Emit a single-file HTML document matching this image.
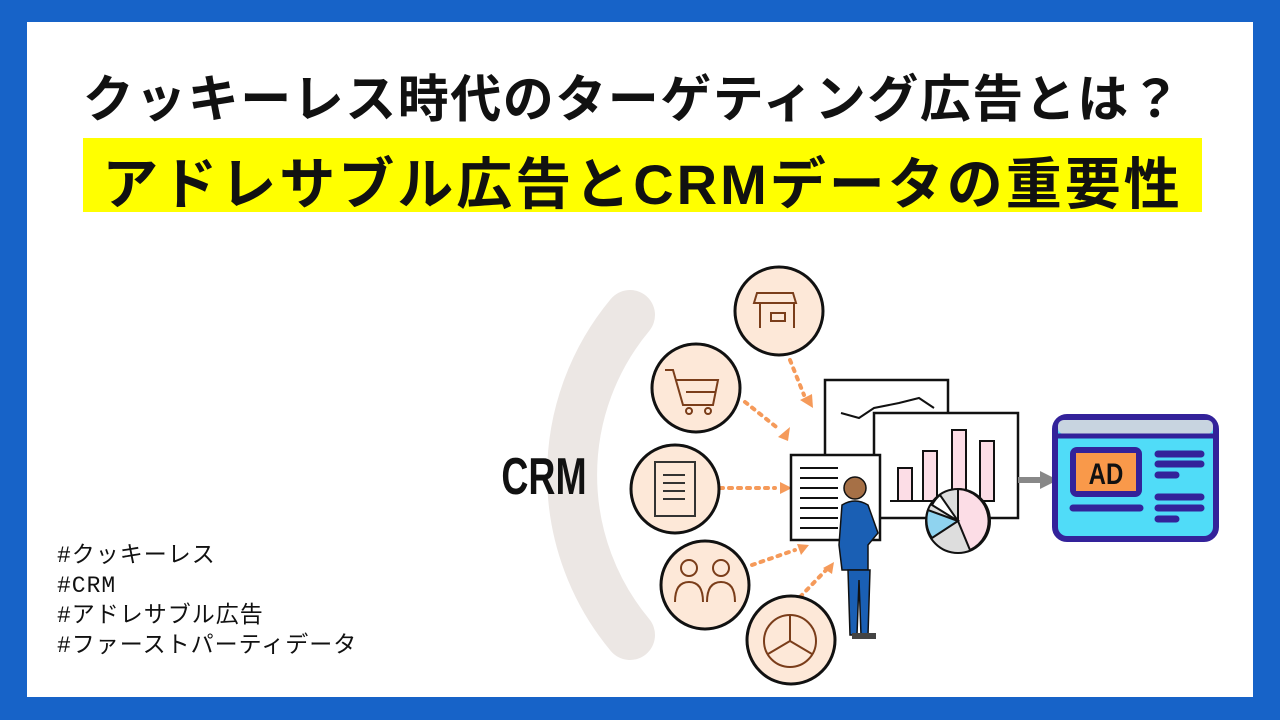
<!DOCTYPE html>
<html><head><meta charset="utf-8"><style>
body{margin:0;width:1280px;height:720px;background:#1763c8;position:relative;overflow:hidden;font-family:"Liberation Sans","Noto Sans CJK JP",sans-serif}
.w{position:absolute;left:27px;top:22px;width:1226px;height:675px;background:#fff}
.t1{position:absolute;left:0;width:1265px;top:58px;text-align:center;font-size:51px;font-weight:bold;color:#111;letter-spacing:1.5px}
.bar{position:absolute;left:83px;top:138px;width:1119px;height:74px;background:#ffff00}
.t2{position:absolute;left:83px;width:1119px;top:140px;text-align:center;font-size:56px;font-weight:bold;color:#111;letter-spacing:3px;white-space:nowrap}
.tags{position:absolute;left:57px;top:541px;font-size:23px;line-height:30px;letter-spacing:1px;color:#111;font-family:"Liberation Mono","Noto Sans CJK JP",monospace}
</style></head><body>
<div class="w"></div>
<div class="t1">クッキーレス時代のターゲティング広告とは？</div>
<div class="bar"></div>
<div class="t2">アドレサブル広告とCRMデータの重要性</div>
<svg width="1280" height="720" style="position:absolute;left:0;top:0">
<path d="M630 315 A 250 250 0 0 0 630 635" fill="none" stroke="#ece7e4" stroke-width="50" stroke-linecap="round"/>
<text x="0" y="0" text-anchor="middle" font-size="52" font-weight="bold" font-family="Liberation Sans,sans-serif" fill="#111" transform="translate(544 494) scale(0.72 1)">CRM</text>
<g stroke="#f59a5a" stroke-width="4" stroke-dasharray="3 6" fill="none" stroke-linecap="round">
<path d="M790 360 L804 395"/><path d="M745 402 L780 430"/><path d="M720 488 L775 488"/><path d="M752 565 L795 550"/><path d="M800 597 L828 568"/>
</g>
<g fill="#f59a5a"><path d="M800 400 l12 -6 l1 14z"/><path d="M778 437 l12 -10 l-2 14z"/><path d="M780 482 l12 6 l-12 6z"/><path d="M797 544 l12 1 l-8 10z"/><path d="M834 562 l-2 12 l-9 -6z"/></g>
<g fill="#fde8d8" stroke="#111" stroke-width="3">
<circle cx="779" cy="311" r="44"/><circle cx="696" cy="388" r="44"/><circle cx="675" cy="489" r="44"/><circle cx="705" cy="585" r="44"/><circle cx="791" cy="640" r="44"/>
</g>
<g stroke="#7a3d1a" stroke-width="2" fill="none">
<path d="M757 293 h36 l3 10 h-42z"/><path d="M760 303 v25 M794 303 v25"/><rect x="771" y="313" width="14" height="8"/>
<path d="M665 370 h8 l10 35 h30 l5 -25 h-43 M686 392 h30"/><circle cx="689" cy="411" r="3"/><circle cx="708" cy="411" r="3"/>
<rect x="655" y="462" width="40" height="54" stroke="#333"/><path d="M663 475 h22 M663 483 h22 M663 491 h22 M663 499 h22" stroke="#333"/>
<circle cx="689" cy="568" r="8"/><circle cx="721" cy="568" r="8"/><path d="M675 602 q0 -20 14 -20 q14 0 14 20 M707 602 q0 -20 14 -20 q14 0 14 20"/>
<circle cx="790" cy="641" r="26"/><path d="M790 641 v-26 M790 641 l-22 13 M790 641 l22 13"/>
</g>
<g fill="#fff" stroke="#111" stroke-width="2.5">
<rect x="825" y="380" width="123" height="90"/><path d="M841 413 l18 5 l15 -10 l25 -5 l20 -5 l15 10" fill="none" stroke-width="2"/>
<rect x="874" y="413" width="144" height="105"/>
<rect x="791" y="455" width="89" height="85"/>
</g>
<g stroke="#111" stroke-width="2"><path d="M800 468h38 M800 478h38 M800 488h38 M800 498h38 M800 508h38 M800 518h38 M800 528h38"/></g>
<g fill="#fcdde6" stroke="#111" stroke-width="2"><rect x="898" y="468" width="14" height="33"/><rect x="923" y="451" width="14" height="50"/><rect x="952" y="430" width="14" height="71"/><rect x="980" y="441" width="14" height="60"/></g>
<path d="M890 501 h100" stroke="#111" stroke-width="2"/>
<circle cx="958" cy="521" r="32" fill="#ddd" stroke="#111" stroke-width="2"/>
<path d="M958 521 V489 A32 32 0 0 1 970 550z" fill="#fcdde6" stroke="#111" stroke-width="2"/>
<path d="M958 521 L928 510 A32 32 0 0 0 932 538z" fill="#8fd3ef" stroke="#111" stroke-width="2"/>
<path d="M958 521 L932 505 A32 32 0 0 1 940 495z" fill="#fff" stroke="#111" stroke-width="2"/>
<circle cx="855" cy="488" r="11" fill="#a67046" stroke="#111" stroke-width="1.5"/>
<path d="M842 505 q13 -8 26 0 l10 28 l-10 12 l0 25 h-26 l-3 -25 z" fill="#1a5fb4" stroke="#111" stroke-width="1.5"/>
<path d="M848 570 h22 l-2 65 h-7 l-2 -55 l-2 55 h-7z" fill="#1a5fb4" stroke="#111" stroke-width="1.5"/>
<rect x="852" y="633" width="24" height="6" fill="#444"/>
<path d="M1018 480 h24" stroke="#888" stroke-width="6"/><path d="M1040 471 l18 9 l-18 9z" fill="#888"/>
<rect x="1055" y="417" width="161" height="122" rx="12" fill="#50dcf8" stroke="#33229a" stroke-width="6"/>
<rect x="1058" y="420" width="155" height="14" rx="6" fill="#c8d4e0"/>
<path d="M1058 436 h155" stroke="#33229a" stroke-width="5"/>
<rect x="1070" y="447" width="72" height="50" rx="7" fill="#33229a"/>
<rect x="1076" y="453" width="60" height="38" fill="#f9994a"/>
<text x="0" y="0" text-anchor="middle" font-size="30" font-weight="bold" fill="#111" font-family="Liberation Sans,sans-serif" transform="translate(1106 484) scale(0.8 1)">AD</text>
<g stroke="#33229a" stroke-width="7" stroke-linecap="round"><path d="M1073 508h67 M1158 454h43 M1158 464h43 M1158 475h18 M1158 497h43 M1158 508h43 M1158 519h18"/></g>
</svg>
<div class="tags">#クッキーレス<br>#CRM<br>#アドレサブル広告<br>#ファーストパーティデータ</div>
</body></html>
